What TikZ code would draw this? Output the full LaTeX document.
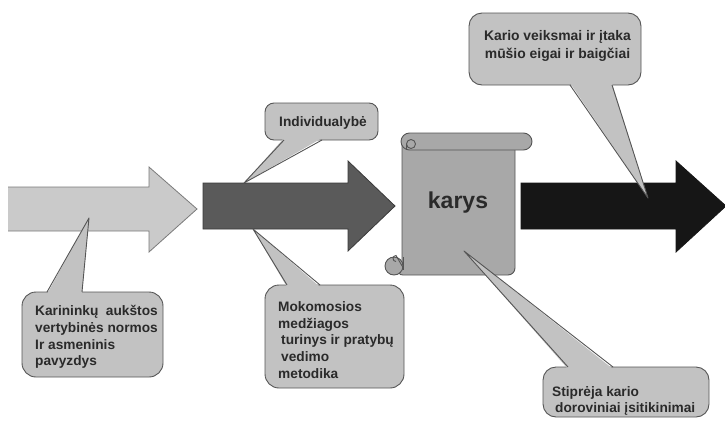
\documentclass[tikz,border=0pt]{standalone}
\usepackage{fontspec}
\setmainfont{Liberation Sans}
\definecolor{cog}{HTML}{C2C2C2}
\definecolor{coedge}{HTML}{555555}
\definecolor{aone}{HTML}{CACACA}
\definecolor{aoneedge}{HTML}{7A7A7A}
\definecolor{atwo}{HTML}{5A5A5A}
\definecolor{atwoedge}{HTML}{3A3A3A}
\definecolor{athree}{HTML}{161616}
\definecolor{scrollc}{HTML}{A8A8A8}
\definecolor{txtc}{HTML}{2A2A2A}
\begin{document}
\begin{tikzpicture}[x=1pt,y=-1pt,
  cofill/.style={fill=cog},
  coline/.style={draw=coedge, line width=0.9pt, line join=round},
  cobox/.style={fill=cog, draw=coedge, line width=0.9pt},
  txt/.style={inner sep=0pt, text=txtc, font=\bfseries\fontsize{13.7}{16.6}\selectfont, align=left},
  scrollsty/.style={fill=scrollc, draw=coedge, line width=0.9pt, line join=round},
]
\useasboundingbox (0,0) rectangle (725,426);

% arrows
\fill[aone] (8,187) -- (149,187) -- (149,167) -- (197,209) -- (149,252) -- (149,231) -- (8,231) -- cycle;
\draw[draw=aoneedge, line width=0.8pt, line join=miter] (8,187) -- (149,187) -- (149,167) -- (197,209) -- (149,252) -- (149,231) -- (8,231);
\filldraw[fill=atwo, draw=atwoedge, line width=0.8pt] (203,183) -- (348,183) -- (348,161) -- (395,206) -- (348,251) -- (348,229) -- (203,229) -- cycle;
\filldraw[fill=athree, draw=athree, line width=0.8pt] (521,183) -- (676,183) -- (676,161) -- (726,206) -- (676,252) -- (676,229) -- (521,229) -- cycle;

% scroll
\filldraw[scrollsty, rounded corners=7] (402,141) -- (515,141) -- (515,275) -- (396,275) [sharp corners] -- (402,268) -- cycle;
\filldraw[scrollsty] (394,266) circle (9);
\draw[coedge, line width=0.9pt] (396,261.5) arc (90:270:3) -- (403,267.5);
\draw[coedge, line width=0.9pt] (403,257) -- (403,270);
\filldraw[scrollsty, rounded corners=8.5] (401,133) rectangle (532,150);
\draw[coedge, line width=0.9pt] (411,144) circle (4.5);
\draw[coedge, line width=0.9pt] (406.5,144) -- (406.5,150);
\node[inner sep=0pt, text=txtc, font=\bfseries\fontsize{23}{26}\selectfont] (karys) at (458,203) {karys};

% callout: Karininku
\filldraw[cobox, rounded corners=14] (22,292) rectangle (163,377);
\fill[cofill] (47,294) -- (89,218) -- (82,294) -- cycle;
\draw[coline] (47,292) -- (89,218) -- (82,292);
\node[txt, anchor=north west] (kar) at (35,305.5) {Karininkų\ \ aukštos\\vertybinės normos\\Ir asmeninis\\pavyzdys};

% callout: Individualybe
\filldraw[cobox, rounded corners=9] (265,103) rectangle (378,140);
\fill[cofill] (284,138) -- (244,183) -- (322,138) -- cycle;
\draw[coline] (284,140) -- (244,183) -- (322,140);
\node[txt, anchor=north west] (ind) at (279,116.5) {Individualybė};

% callout: Mokomosios
\filldraw[cobox, rounded corners=14] (265,285) rectangle (404,388);
\fill[cofill] (287,287) -- (253,229) -- (320,287) -- cycle;
\draw[coline] (287,285) -- (253,229) -- (320,285);
\node[txt, anchor=north west] (mok) at (278,301.5) {Mokomosios\\medžiagos\\\hspace{3pt}turinys ir pratybų\\\hspace{3pt}vedimo\\metodika};

% callout: Kario
\filldraw[cobox, rounded corners=13] (469,13) rectangle (641,85);
\fill[cofill] (570,83) -- (648,198) -- (612,83) -- cycle;
\draw[coline] (570,85) -- (648,198) -- (612,85);
\node[txt, anchor=north, align=center, font=\bfseries\fontsize{13.9}{17.5}\selectfont] (kario) at (557.5,30.5) {Kario veiksmai ir įtaka\\ mūšio eigai ir baigčiai};

% callout: Stipreja
\filldraw[cobox, rounded corners=13] (543,367) rectangle (709,417);
\fill[cofill] (568,369) -- (464,251) -- (613,369) -- cycle;
\draw[coline] (568,367) -- (464,251) -- (613,367);
\node[txt, anchor=north west] (stip) at (552,386) {Stiprėja kario\\\hspace{3pt}doroviniai įsitikinimai};
\end{tikzpicture}
\end{document}
